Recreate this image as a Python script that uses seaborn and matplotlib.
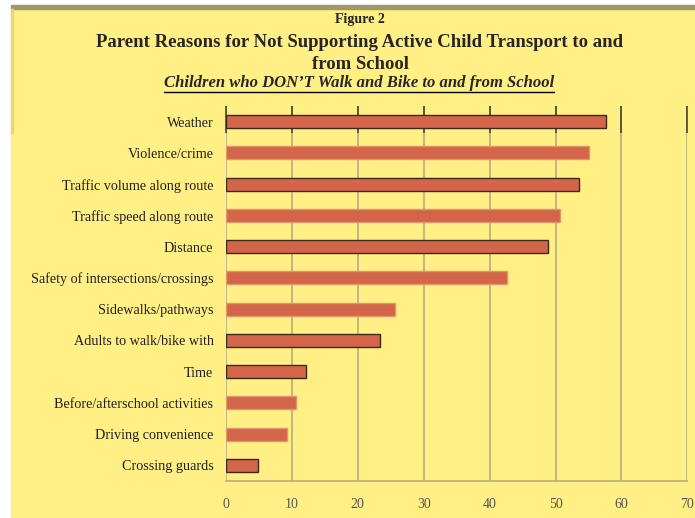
import matplotlib
matplotlib.use('Agg')
import matplotlib.pyplot as plt
from matplotlib.patches import Rectangle
from matplotlib.lines import Line2D
import seaborn as sns
import pandas as pd

# data
reasons = [
    'Weather', 'Violence/crime', 'Traffic volume along route',
    'Traffic speed along route', 'Distance',
    'Safety of intersections/crossings', 'Sidewalks/pathways',
    'Adults to walk/bike with', 'Time', 'Before/afterschool activities',
    'Driving convenience', 'Crossing guards',
]
percent = [57.6, 55.1, 53.6, 50.7, 48.8, 42.6, 25.6, 23.3, 12.1, 10.6, 9.3, 4.8]
x_ticks = [0, 10, 20, 30, 40, 50, 60, 70]

fig_title = 'Figure 2'
title = 'Parent Reasons for Not Supporting Active Child Transport to and\nfrom School'
subtitle = 'Children who DON\u2019T Walk and Bike to and from School'

YELLOW = '#FFEF85'
BAR = '#D3654B'
GRID = '#B5AD80'

df = pd.DataFrame({'reason': reasons, 'percent': percent})

sns.set_style('white')
plt.rcParams['font.family'] = ['Liberation Serif', 'DejaVu Serif']

fig = plt.figure(figsize=(6.95, 5.18), dpi=100, facecolor='white')

# yellow panel + olive top band
fig.add_artist(Rectangle((11 / 695, 0), 1 - 11 / 695, (518 - 9) / 518,
                         transform=fig.transFigure, color=YELLOW, zorder=-10))
fig.add_artist(Rectangle((11 / 695, (518 - 9) / 518), 1 - 11 / 695, 4 / 518,
                         transform=fig.transFigure, color='#A09868', zorder=-10))
fig.add_artist(Rectangle((11 / 695, (518 - 133) / 518), 2 / 695, 124 / 518,
                         transform=fig.transFigure, color='#E8D878', zorder=-9))

ax = fig.add_axes([226 / 695, 37 / 518, 461.3 / 695, 375 / 518])
ax.set_facecolor(YELLOW)

sns.barplot(data=df, y='reason', x='percent', orient='h', color=BAR,
            width=0.42, saturation=1, ax=ax, zorder=3)

# some bars carry a dark outline in the original
edge_cols = ['#3a2a1a', '#E0956A', '#3a2a1a', '#E0956A', '#3a2a1a', '#E0956A',
             '#E0956A', '#3a2a1a', '#3a2a1a', '#E0956A', '#E0956A', '#3a2a1a']
for patch, ec in zip(ax.patches, edge_cols):
    patch.set_edgecolor(ec)
    patch.set_linewidth(1.0)

ax.set_xlim(0, 70)
ax.set_ylim(11.5, -0.5)
ax.set_xticks(x_ticks)
ax.set_xlabel('')
ax.set_ylabel('')
ax.xaxis.grid(True, color=GRID, linewidth=1.2, zorder=0)
ax.set_axisbelow(True)
for s in ['top', 'right', 'left']:
    ax.spines[s].set_visible(False)
ax.spines['bottom'].set_color(GRID)
ax.spines['bottom'].set_linewidth(1.2)

ax.tick_params(axis='x', which='both', bottom=False, top=True, direction='in',
               length=19.5, width=1.2, color='#4a4530', labelsize=10,
               labelcolor='#555555', pad=12)
ax.tick_params(axis='y', left=False, labelsize=10.2, labelcolor='#222222', pad=5.5)

# text block
fig.text(360 / 695, 1 - 19 / 518, fig_title, ha='center', va='center',
         fontsize=10, fontweight='bold')
fig.text(360 / 695, 1 - 53.5 / 518, title, ha='center', va='center',
         fontsize=13.5, fontweight='bold', linespacing=1.4)
sub = fig.text(359 / 695, 1 - 83 / 518, subtitle, ha='center', va='center',
               fontsize=12, fontweight='bold', fontstyle='italic')

fig.canvas.draw()
bb = sub.get_window_extent().transformed(fig.transFigure.inverted())
fig.add_artist(Line2D([bb.x0, bb.x1], [bb.y0 - 0.001, bb.y0 - 0.001],
                      transform=fig.transFigure, color='black', linewidth=1))

fig.savefig('out.png', dpi=100, facecolor='white')
